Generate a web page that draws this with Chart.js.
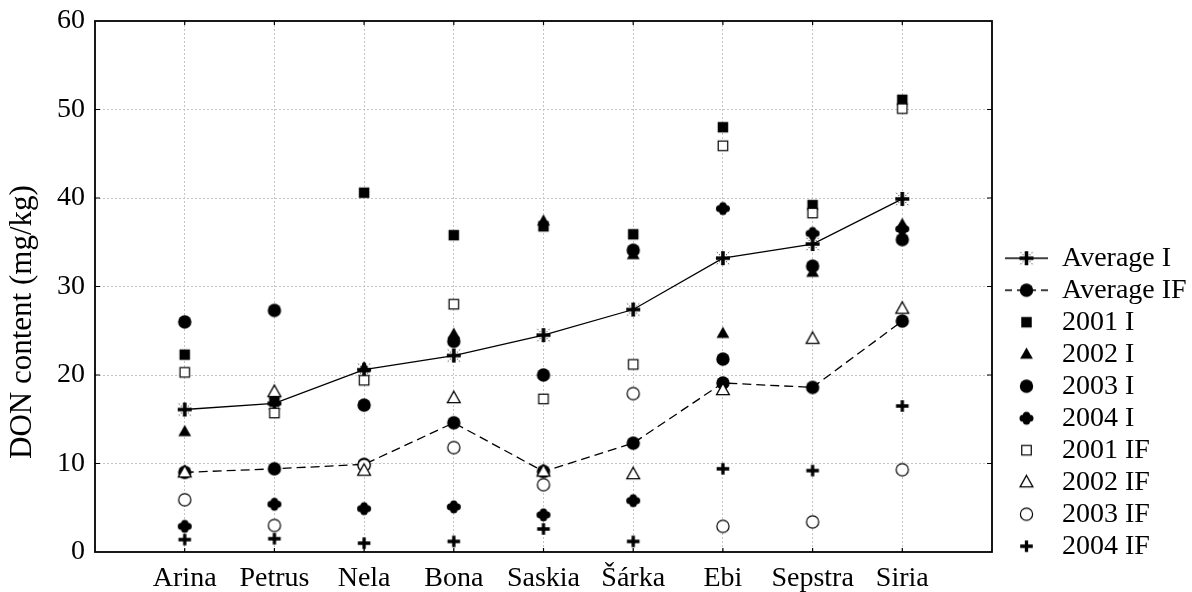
<!DOCTYPE html>
<html><head><meta charset="utf-8">
<script src="https://cdn.jsdelivr.net/npm/chart.js@4.4.1/dist/chart.umd.min.js"></script>
<style>html,body{margin:0;padding:0;background:#fff;}canvas{display:block;}</style>
</head><body>
<canvas id="c" width="1192" height="592"></canvas>
<script>
// ---- data ----
const categories = ['Arina', 'Petrus', 'Nela', 'Bona', 'Saskia', 'Šárka', 'Ebi', 'Sepstra', 'Siria'];
const yTicks = [0, 10, 20, 30, 40, 50, 60];
const avgI    = [16.1, 16.8, 20.6, 22.2, 24.5, 27.4, 33.2, 34.8, 39.9];
const avgIF   = [9.0, 9.4, 9.9, 14.6, 9.1, 12.3, 19.1, 18.6, 26.1];
const y2001I  = [22.3, 17.0, 40.6, 35.8, 36.8, 35.9, 48.0, 39.2, 51.1];
const y2002I  = [13.6, 17.1, 20.8, 24.6, 37.4, 33.6, 24.7, 31.6, 37.0];
const y2003I  = [26.0, 27.3, 16.6, 23.8, 20.0, 34.1, 21.8, 32.3, 35.3];
const y2004I  = [2.9, 5.4, 4.9, 5.1, 4.2, 5.8, 38.8, 36.0, 36.5];
const y2001IF = [20.3, 15.7, 19.4, 28.0, 17.3, 21.2, 45.9, 38.3, 50.1];
const y2002IF = [9.0, 18.1, 9.2, 17.4, 9.1, 8.8, 18.3, 24.1, 27.5];
const y2003IF = [5.9, 3.0, 9.8, 11.8, 7.6, 17.9, 2.9, 3.4, 9.3];
const y2004IF = [1.4, 1.5, 1.0, 1.2, 2.6, 1.2, 9.4, 9.2, 16.5];
const yTitle = 'DON content (mg/kg)';

const FONT = '"Liberation Serif", "Times New Roman", serif';

function drawMarker(g, type, cx, cy) {
  g.save();
  g.fillStyle = '#000'; g.strokeStyle = '#000';
  switch (type) {
    case 'sqF': g.fillRect(cx - 5.25, cy - 5.25, 10.5, 10.5); break;
    case 'sqO':
      g.fillStyle = '#fff'; g.lineWidth = 1.2;
      g.fillRect(cx - 4.75, cy - 4.75, 9.5, 9.5); g.strokeRect(cx - 4.75, cy - 4.75, 9.5, 9.5); break;
    case 'triF': case 'triO':
      g.beginPath(); g.moveTo(cx, cy - 6.8); g.lineTo(cx + 6.4, cy + 4.6); g.lineTo(cx - 6.4, cy + 4.6); g.closePath();
      if (type === 'triF') g.fill(); else { g.fillStyle = '#fff'; g.fill(); g.lineWidth = 1.3; g.stroke(); }
      break;
    case 'cirF': g.beginPath(); g.arc(cx, cy, 6.7, 0, 2 * Math.PI); g.fill(); break;
    case 'cirO':
      g.beginPath(); g.arc(cx, cy, 6.1, 0, 2 * Math.PI); g.fillStyle = '#fff'; g.fill(); g.lineWidth = 1.2; g.stroke(); break;
    case 'clover':
      g.fillRect(cx - 3.6, cy - 3.6, 7.2, 7.2);
      [[-3.4, 0], [3.4, 0], [0, -3], [0, 3]].forEach(([dx, dy]) => { g.beginPath(); g.arc(cx + dx, cy + dy, 3.6, 0, 2 * Math.PI); g.fill(); });
      break;
    case 'plus':
      g.lineWidth = 3.3; g.beginPath();
      g.moveTo(cx - 6.3, cy); g.lineTo(cx + 6.3, cy); g.moveTo(cx, cy - 5.8); g.lineTo(cx, cy + 5.8); g.stroke(); break;
    case 'star':
      g.lineWidth = 3.6; g.beginPath();
      g.moveTo(cx - 7, cy); g.lineTo(cx + 7, cy); g.moveTo(cx, cy - 7); g.lineTo(cx, cy + 7); g.stroke();
      g.lineWidth = 1; g.strokeStyle = '#444'; g.setLineDash([1.5, 1.5]); g.beginPath();
      [[1, 1], [1, -1], [-1, 1], [-1, -1]].forEach(([sx, sy]) => { g.moveTo(cx + sx * 3, cy + sy * 3); g.lineTo(cx + sx * 6.5, cy + sy * 6.5); });
      g.stroke(); break;
  }
  g.restore();
}
function markerCanvas(type) {
  const c = document.createElement('canvas'); c.width = 20; c.height = 20;
  drawMarker(c.getContext('2d'), type, 10, 10); return c;
}
function legendCanvas(type, line) {
  const c = document.createElement('canvas'); c.width = 72; c.height = 22;
  const g = c.getContext('2d');
  if (line) {
    g.strokeStyle = '#000'; g.lineWidth = 1.3;
    if (line === 'dash') g.setLineDash([7, 5]);
    g.beginPath(); g.moveTo(19, 11); g.lineTo(62, 11); g.stroke(); g.setLineDash([]);
  }
  drawMarker(g, type, 40.5, 11); return c;
}

const series = [
  { label: 'Average I', values: avgI, marker: 'star', line: 'solid', order: 2 },
  { label: 'Average IF', values: avgIF, marker: 'cirF', line: 'dash', order: 2 },
  { label: '2001 I', values: y2001I, marker: 'sqF', order: 1 },
  { label: '2002 I', values: y2002I, marker: 'triF', order: 1 },
  { label: '2003 I', values: y2003I, marker: 'cirF', order: 1 },
  { label: '2004 I', values: y2004I, marker: 'clover', order: 1 },
  { label: '2001 IF', values: y2001IF, marker: 'sqO', order: 0 },
  { label: '2002 IF', values: y2002IF, marker: 'triO', order: 0 },
  { label: '2003 IF', values: y2003IF, marker: 'cirO', order: 0 },
  { label: '2004 IF', values: y2004IF, marker: 'plus', order: 0 }
];
const legendImgs = series.map(s => legendCanvas(s.marker, s.line));

const datasets = series.map(s => ({
  label: s.label,
  data: s.values.map((v, i) => ({ x: i, y: v })),
  showLine: !!s.line,
  borderColor: '#000',
  borderWidth: 1.3,
  borderDash: s.line === 'dash' ? [9, 5] : [],
  pointStyle: markerCanvas(s.marker),
  pointRadius: 6,
  order: s.order,
  clip: false
}));

const framePlugin = {
  id: 'frame',
  beforeLayout(chart) {
    const lg = chart.legend;
    if (lg && !lg._fixedW) {
      const f = lg.fit;
      lg.fit = function () { f.call(this); this.width = 200; };
      lg._fixedW = true;
    }
  },
  afterDraw(chart) {
    const { ctx, chartArea: a, scales } = chart;
    ctx.save();
    ctx.strokeStyle = '#000'; ctx.lineWidth = 1.8;
    ctx.strokeRect(a.left, a.top, a.right - a.left, a.bottom - a.top);
    ctx.lineWidth = 1.2;
    ctx.beginPath();
    scales.x.ticks.forEach(t => {
      const px = scales.x.getPixelForValue(t.value);
      if (px > a.left + 1 && px < a.right - 1) {
        ctx.moveTo(px, a.top); ctx.lineTo(px, a.top + 4);
        ctx.moveTo(px, a.bottom); ctx.lineTo(px, a.bottom - 4);
      }
    });
    scales.y.ticks.forEach(t => {
      const py = scales.y.getPixelForValue(t.value);
      if (py > a.top + 1 && py < a.bottom - 1) {
        ctx.moveTo(a.right, py); ctx.lineTo(a.right - 5, py);
        ctx.moveTo(a.left, py); ctx.lineTo(a.left + 5, py);
      }
    });
    ctx.stroke();
    // y axis title
    ctx.fillStyle = '#000';
    ctx.font = '31px ' + FONT;
    ctx.textAlign = 'center'; ctx.textBaseline = 'middle';
    ctx.translate(23, a.top + (a.bottom - a.top) * 0.567);
    ctx.rotate(-Math.PI / 2);
    ctx.fillText(yTitle, 0, 0);
    ctx.restore();
  }
};

const gridCol = '#c4c4c4';
new Chart(document.getElementById('c'), {
  type: 'scatter',
  data: { datasets },
  options: {
    responsive: false,
    devicePixelRatio: 1,
    animation: false,
    events: [],
    layout: { padding: { top: 21, right: 0, bottom: 0, left: 0 } },
    scales: {
      x: {
        type: 'linear', min: -1, max: 9,
        afterBuildTicks: s => { s.ticks = [-1].concat(categories.map((c, i) => i), [categories.length]).map(v => ({ value: v })); },
        ticks: { autoSkip: false, maxRotation: 0, padding: 10, color: '#000', font: { family: FONT, size: 28 },
                 callback: v => (categories[v] !== undefined ? categories[v] : '') },
        grid: { drawTicks: false, lineWidth: 1,
                color: c => (c.tick && (c.tick.value < 0 || c.tick.value >= categories.length)) ? 'rgba(0,0,0,0)' : gridCol },
        border: { display: false, dash: [2, 2] },
        afterFit: s => { s.height = 40; s.paddingLeft = 0; s.paddingRight = 0; }
      },
      y: {
        min: 0, max: 60,
        afterBuildTicks: s => { s.ticks = yTicks.map(v => ({ value: v })); },
        ticks: { padding: 10, color: '#000', font: { family: FONT, size: 28 } },
        grid: { drawTicks: false, lineWidth: 1,
                color: c => (c.tick && (c.tick.value === 0 || c.tick.value === 60)) ? 'rgba(0,0,0,0)' : gridCol },
        border: { display: false, dash: [2, 2] },
        afterFit: s => { s.width = 95; s.paddingTop = 0; s.paddingBottom = 0; }
      }
    },
    plugins: {
      tooltip: { enabled: false },
      legend: {
        position: 'right', align: 'start',
        title: { display: true, text: '', padding: { top: 218, bottom: 0 }, font: { size: 1 } },
        labels: {
          usePointStyle: true, pointStyleWidth: 52, padding: 4, color: '#000',
          font: { family: FONT, size: 28 },
          generateLabels: () => series.map((s, i) => ({
            text: s.label, pointStyle: legendImgs[i], fillStyle: '#000', strokeStyle: '#000',
            lineWidth: 0, hidden: false, datasetIndex: i, fontColor: '#000'
          }))
        }
      }
    }
  },
  plugins: [framePlugin]
});
</script>
</body></html>
